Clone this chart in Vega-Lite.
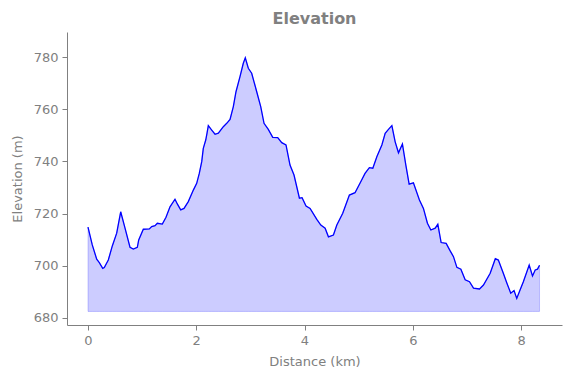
{
  "$schema": "https://vega.github.io/schema/vega-lite/v6.json",
  "autosize": "none",
  "width": 495,
  "height": 293,
  "padding": {"left": 67, "top": 32, "right": 9, "bottom": 53},
  "background": "white",
  "title": {"text": "Elevation", "fontSize": 16, "fontWeight": "bold", "color": "#808080", "font": "DejaVu Sans", "anchor": "middle", "offset": 5},
  "config": {
    "view": {"stroke": null},
    "axis": {"grid": false, "domainColor": "#808080", "tickColor": "#808080", "labelColor": "#808080", "titleColor": "#808080", "labelFont": "DejaVu Sans", "titleFont": "DejaVu Sans", "labelFontSize": 13, "titleFontSize": 13, "titleFontWeight": "normal", "tickSize": 5, "domainWidth": 1, "tickWidth": 1}
  },
  "data": {"values": [
    {"d": 0.0, "e": 714.8}, {"d": 0.079, "e": 708.0}, {"d": 0.161, "e": 702.5}, {"d": 0.209, "e": 701.2},
    {"d": 0.272, "e": 699.0}, {"d": 0.301, "e": 699.3}, {"d": 0.375, "e": 702.2}, {"d": 0.449, "e": 707.6},
    {"d": 0.53, "e": 712.5}, {"d": 0.604, "e": 720.7}, {"d": 0.684, "e": 714.4}, {"d": 0.776, "e": 707.1},
    {"d": 0.837, "e": 706.4}, {"d": 0.911, "e": 707.1}, {"d": 0.937, "e": 709.9}, {"d": 1.022, "e": 714.0},
    {"d": 1.133, "e": 714.1}, {"d": 1.177, "e": 715.0}, {"d": 1.238, "e": 715.4}, {"d": 1.281, "e": 716.3},
    {"d": 1.373, "e": 716.0}, {"d": 1.441, "e": 718.6}, {"d": 1.515, "e": 722.6}, {"d": 1.607, "e": 725.5},
    {"d": 1.65, "e": 723.7}, {"d": 1.713, "e": 721.4}, {"d": 1.774, "e": 722.0}, {"d": 1.853, "e": 724.6},
    {"d": 1.946, "e": 729.0}, {"d": 2.008, "e": 731.6}, {"d": 2.056, "e": 735.4}, {"d": 2.101, "e": 739.9},
    {"d": 2.13, "e": 745.0}, {"d": 2.175, "e": 748.2}, {"d": 2.199, "e": 750.8}, {"d": 2.223, "e": 753.7},
    {"d": 2.286, "e": 752.0}, {"d": 2.347, "e": 750.4}, {"d": 2.408, "e": 750.8}, {"d": 2.5, "e": 753.3},
    {"d": 2.563, "e": 754.6}, {"d": 2.624, "e": 756.1}, {"d": 2.685, "e": 761.0}, {"d": 2.734, "e": 766.7},
    {"d": 2.808, "e": 772.5}, {"d": 2.869, "e": 777.6}, {"d": 2.906, "e": 779.7}, {"d": 2.962, "e": 775.7},
    {"d": 3.024, "e": 773.8}, {"d": 3.117, "e": 766.7}, {"d": 3.191, "e": 761.0}, {"d": 3.252, "e": 754.6},
    {"d": 3.331, "e": 752.3}, {"d": 3.413, "e": 749.2}, {"d": 3.505, "e": 749.1}, {"d": 3.579, "e": 747.2},
    {"d": 3.658, "e": 746.3}, {"d": 3.732, "e": 738.6}, {"d": 3.806, "e": 734.8}, {"d": 3.906, "e": 725.9},
    {"d": 3.955, "e": 726.1}, {"d": 4.028, "e": 722.9}, {"d": 4.103, "e": 722.0}, {"d": 4.227, "e": 717.8},
    {"d": 4.301, "e": 715.6}, {"d": 4.381, "e": 714.4}, {"d": 4.442, "e": 711.1}, {"d": 4.534, "e": 711.8},
    {"d": 4.597, "e": 715.6}, {"d": 4.706, "e": 720.1}, {"d": 4.829, "e": 727.1}, {"d": 4.933, "e": 728.0},
    {"d": 5.039, "e": 732.2}, {"d": 5.118, "e": 735.4}, {"d": 5.198, "e": 737.6}, {"d": 5.262, "e": 737.4},
    {"d": 5.336, "e": 741.8}, {"d": 5.429, "e": 746.3}, {"d": 5.49, "e": 750.8}, {"d": 5.551, "e": 752.3},
    {"d": 5.614, "e": 753.7}, {"d": 5.675, "e": 747.5}, {"d": 5.736, "e": 743.3}, {"d": 5.809, "e": 746.7},
    {"d": 5.872, "e": 738.6}, {"d": 5.933, "e": 731.3}, {"d": 6.012, "e": 731.8}, {"d": 6.123, "e": 725.2},
    {"d": 6.197, "e": 722.0}, {"d": 6.271, "e": 716.3}, {"d": 6.334, "e": 713.7}, {"d": 6.414, "e": 714.4},
    {"d": 6.463, "e": 715.9}, {"d": 6.524, "e": 708.9}, {"d": 6.617, "e": 708.6}, {"d": 6.691, "e": 705.7},
    {"d": 6.752, "e": 703.5}, {"d": 6.815, "e": 699.4}, {"d": 6.889, "e": 698.7}, {"d": 6.968, "e": 694.6},
    {"d": 7.048, "e": 693.9}, {"d": 7.122, "e": 691.4}, {"d": 7.233, "e": 691.1}, {"d": 7.306, "e": 692.6},
    {"d": 7.43, "e": 697.1}, {"d": 7.525, "e": 702.7}, {"d": 7.581, "e": 702.2}, {"d": 7.673, "e": 697.1},
    {"d": 7.736, "e": 693.5}, {"d": 7.81, "e": 689.5}, {"d": 7.871, "e": 690.5}, {"d": 7.921, "e": 687.5},
    {"d": 7.982, "e": 690.7}, {"d": 8.043, "e": 693.9}, {"d": 8.151, "e": 700.3}, {"d": 8.212, "e": 696.1},
    {"d": 8.262, "e": 698.4}, {"d": 8.305, "e": 698.7}, {"d": 8.342, "e": 700.2}
  ]},
  "layer": [
    {
      "mark": {"type": "area", "color": "#0000ff", "fillOpacity": 0.2, "stroke": "#0000ff", "strokeOpacity": 0.2, "strokeWidth": 1},
      "encoding": {
        "x": {"field": "d", "type": "quantitative", "scale": {"domain": [-0.388, 8.757], "nice": false, "zero": false}, "axis": {"values": [0, 2, 4, 6, 8], "format": "d", "title": "Distance (km)", "titlePadding": 8, "labelPadding": 4}},
        "y": {"field": "e", "type": "quantitative", "scale": {"domain": [677.3, 789.6], "nice": false, "zero": false}, "axis": {"values": [680, 700, 720, 740, 760, 780], "format": "d", "title": "Elevation (m)", "titlePadding": 9, "labelPadding": 4}},
        "y2": {"datum": 682.5}
      }
    },
    {
      "mark": {"type": "line", "color": "#0000ff", "strokeWidth": 1.3},
      "encoding": {
        "x": {"field": "d", "type": "quantitative"},
        "y": {"field": "e", "type": "quantitative"}
      }
    }
  ]
}
